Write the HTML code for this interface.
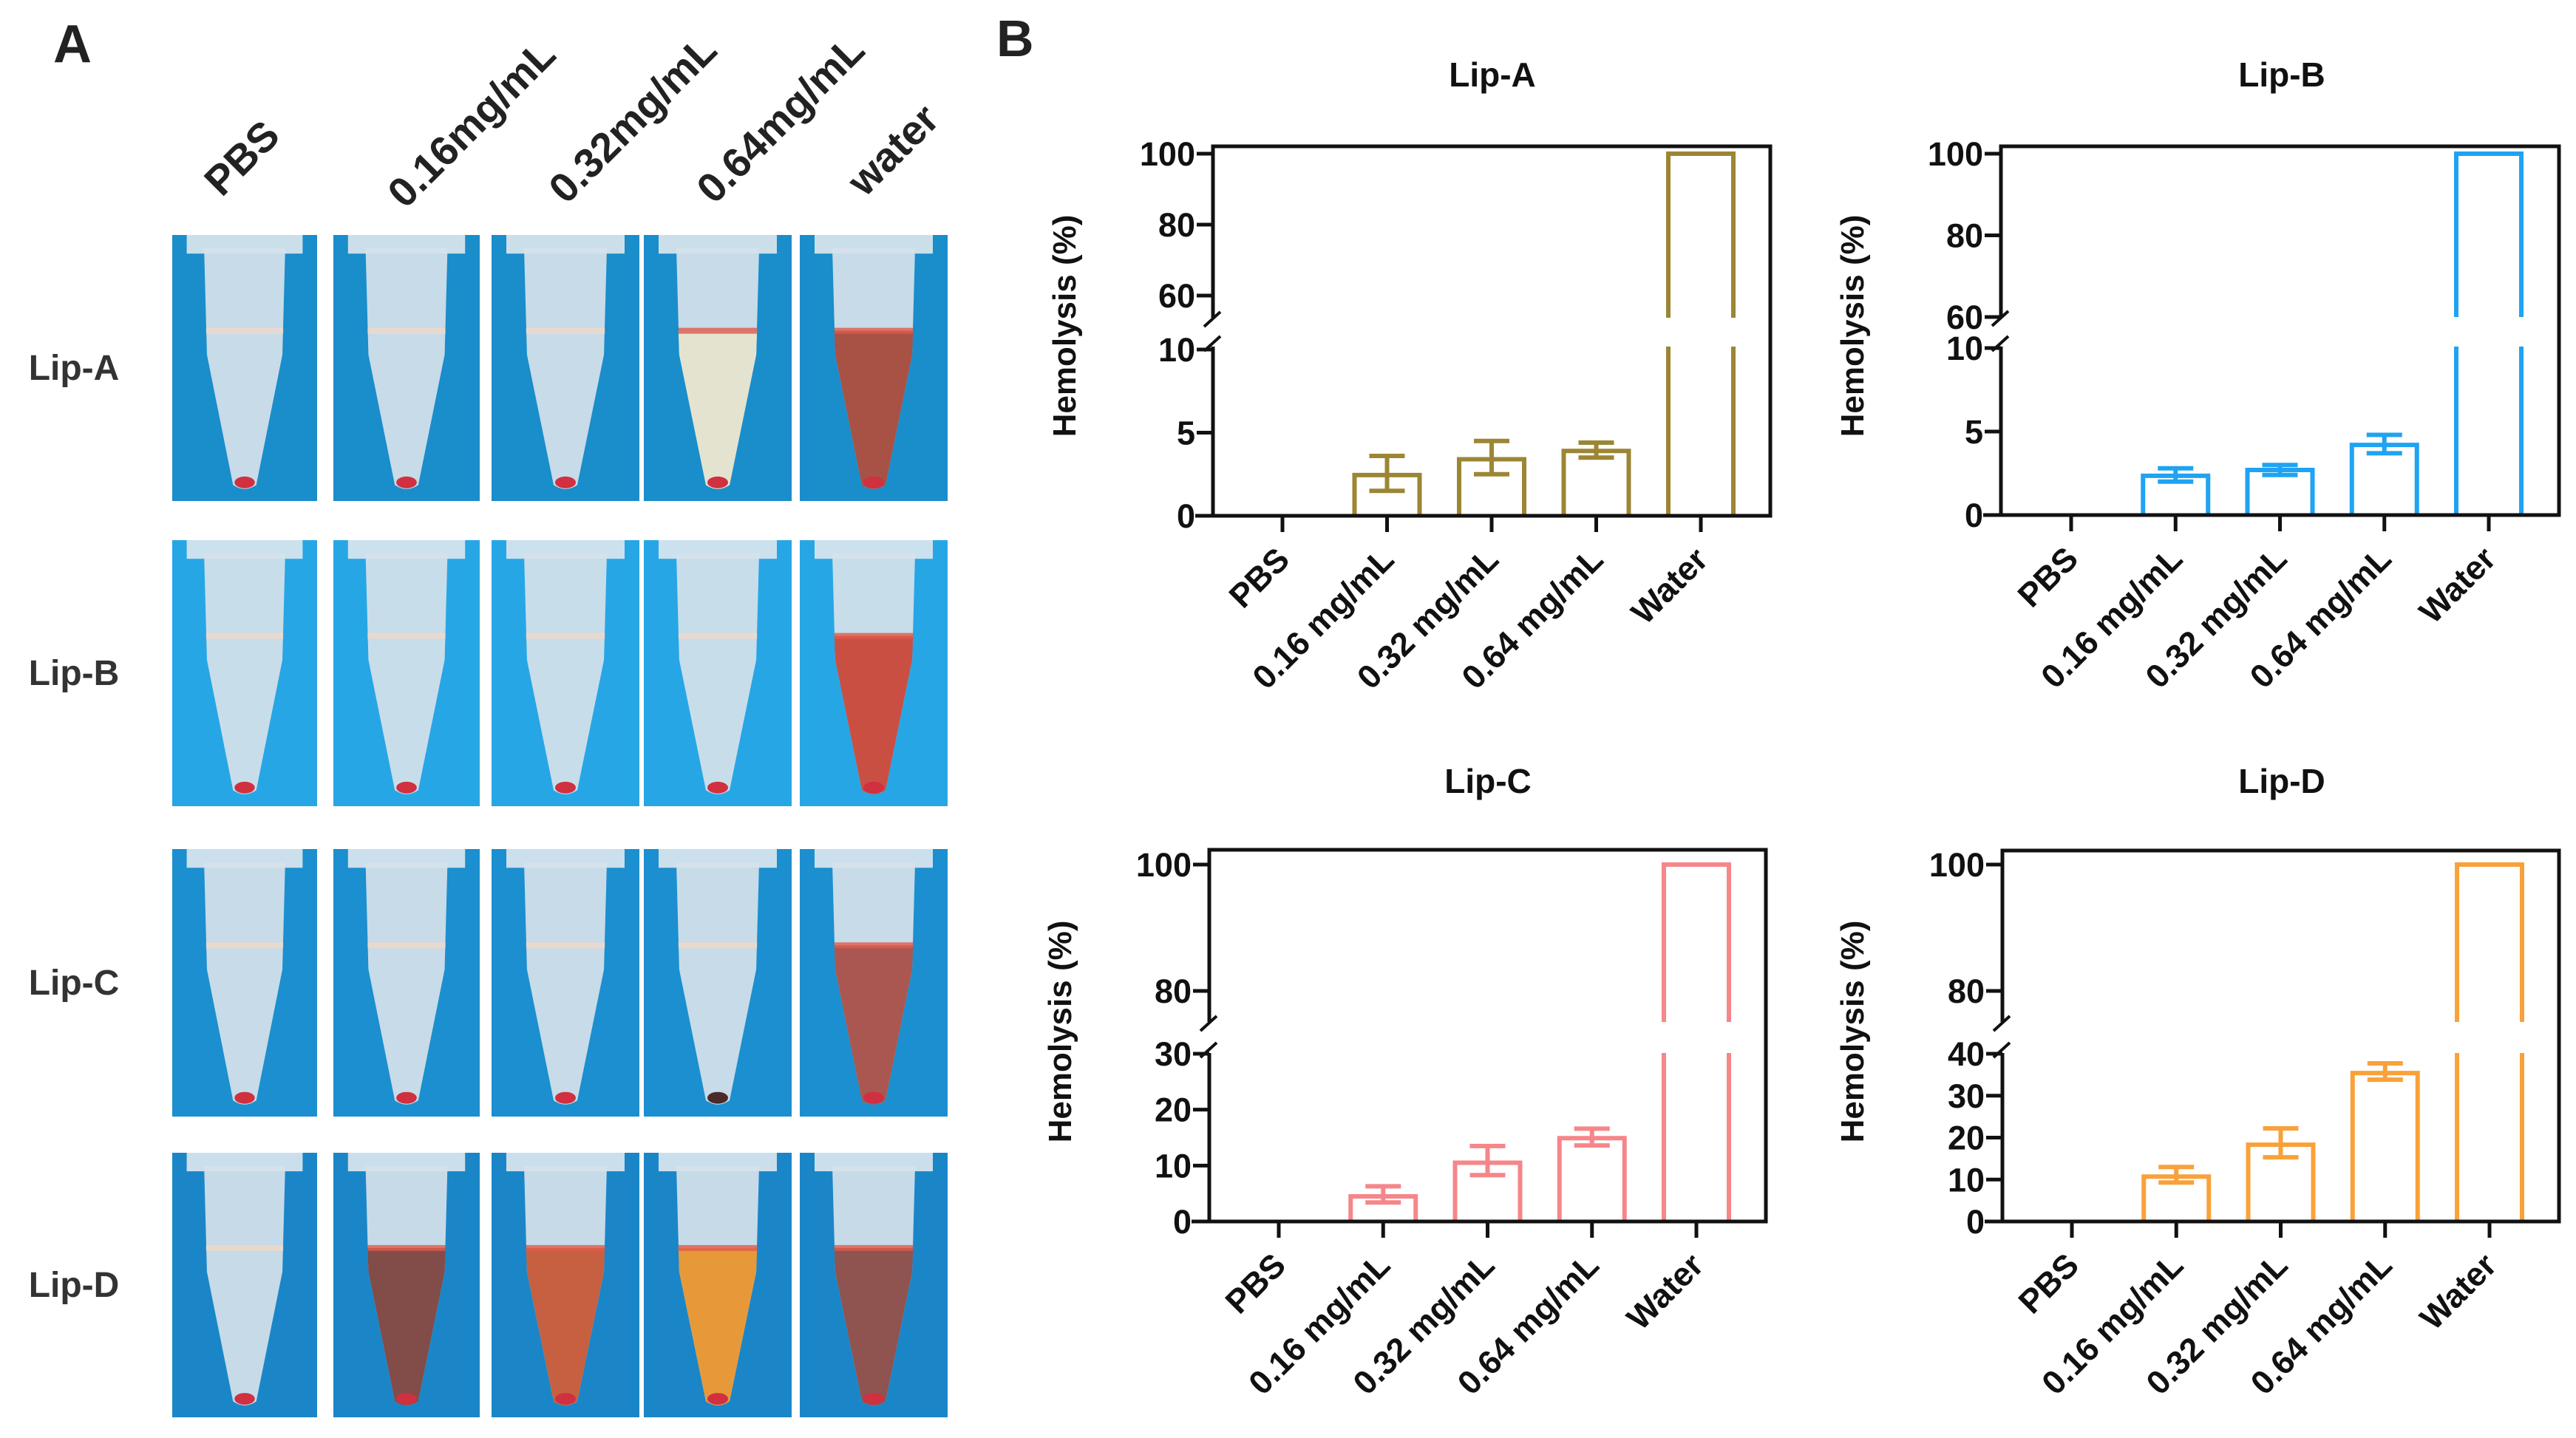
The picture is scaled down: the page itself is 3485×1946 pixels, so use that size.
<!DOCTYPE html>
<html><head><meta charset="utf-8">
<style>
html,body{margin:0;padding:0;background:#fff;}
svg{display:block;font-family:"Liberation Sans",Arial,sans-serif;}
</style></head>
<body>
<svg id="fig" width="3485" height="1946" viewBox="0 0 3485 1946" xmlns="http://www.w3.org/2000/svg">
<text x="72" y="84" font-size="72" font-weight="bold" fill="#222">A</text>
<text x="1348" y="76" font-size="70" font-weight="bold" fill="#222">B</text>
<g id="panelA"></g>
<g id="charts"></g>
</svg>
<script>
// ---------- Chart data ----------
const categories = ["PBS", "0.16 mg/mL", "0.32 mg/mL", "0.64 mg/mL", "Water"];
const chartTitles = ["Lip-A", "Lip-B", "Lip-C", "Lip-D"];
const valuesA = [0, 2.45, 3.4, 3.9, 100];
const errHiA = [0, 3.6, 4.5, 4.4, 100];
const errLoA = [0, 1.5, 2.5, 3.5, 100];
const valuesB = [0, 2.35, 2.7, 4.2, 100];
const errHiB = [0, 2.8, 3.0, 4.8, 100];
const errLoB = [0, 2.0, 2.4, 3.7, 100];
const valuesC = [0, 4.5, 10.5, 14.9, 100];
const errHiC = [0, 6.3, 13.5, 16.6, 100];
const errLoC = [0, 3.4, 8.3, 13.6, 100];
const valuesD = [0, 10.7, 18.3, 35.4, 100];
const errHiD = [0, 13, 22.2, 37.7, 100];
const errLoD = [0, 9.3, 15.3, 33.8, 100];
const lowTicksA = [0, 5, 10], upTicksA = [60, 80, 100];
const lowTicksB = [0, 5, 10], upTicksB = [60, 80, 100];
const lowTicksC = [0, 10, 20, 30], upTicksC = [80, 100];
const lowTicksD = [0, 10, 20, 30, 40], upTicksD = [80, 100];

const NS = "http://www.w3.org/2000/svg";
function mk(parent, tag, attrs, text) {
  const e = document.createElementNS(NS, tag);
  for (const k in attrs) e.setAttribute(k, attrs[k]);
  if (text !== undefined) e.textContent = text;
  parent.appendChild(e);
  return e;
}

// layout (geometry only)
const layouts = [
  {left:1641,right:2395,top:198,zero:698,lowMax:10,lowTopY:473,lowEnd:10.2,upMin:60,upMinY:400,y100:208,gapTop:430,gapBot:469,cx0:1735,titleX:2019,titleY:117,ylabX:1455,ylabY:441,color:"#9c8634"},
  {left:2707,right:3462,top:198,zero:697,lowMax:10,lowTopY:471,lowEnd:10.1,upMin:60,upMinY:429,y100:208,gapTop:429,gapBot:469,cx0:2802,titleX:3087,titleY:117,ylabX:2521,ylabY:441,color:"#1fa3f2"},
  {left:1636,right:2389,top:1150,zero:1653,lowMax:30,lowTopY:1426,lowEnd:30,upMin:80,upMinY:1341,y100:1170,gapTop:1383,gapBot:1425,cx0:1730,titleX:2013,titleY:1073,ylabX:1449,ylabY:1396,color:"#f5868a"},
  {left:2709,right:3462,top:1151,zero:1653,lowMax:40,lowTopY:1426,lowEnd:40,upMin:80,upMinY:1341,y100:1170,gapTop:1383,gapBot:1425,cx0:2803,titleX:3087,titleY:1073,ylabX:2521,ylabY:1396,color:"#f9a13a"}
];
const seriesVals = [valuesA, valuesB, valuesC, valuesD];
const seriesHi = [errHiA, errHiB, errHiC, errHiD];
const seriesLo = [errLoA, errLoB, errLoC, errLoD];
const lowTicks = [lowTicksA, lowTicksB, lowTicksC, lowTicksD];
const upTicks = [upTicksA, upTicksB, upTicksC, upTicksD];

const chartsG = document.getElementById("charts");
layouts.forEach((L, ci) => {
  const g = mk(chartsG, "g", {});
  
  
  const lowScale = v => L.zero - v * (L.zero - L.lowTopY) / L.lowMax;
  const upScale = v => L.y100 + (100 - v) * (L.upMinY - L.y100) / (100 - L.upMin);
  const yS = v => v <= L.lowEnd ? lowScale(v) : upScale(v);
  const step = (L.right - L.left - 2 * (L.cx0 - L.left)) / (categories.length - 1);
  const xS = i => L.cx0 + i * step;
  const col = L.color;

  const t = mk(g, "text", {x:L.titleX, y:L.titleY, "font-size":46, "font-weight":"bold", "text-anchor":"middle", fill:"#111"}, chartTitles[ci]);
  
  
  const yl = mk(g, "text", {x:L.ylabX, y:L.ylabY, "font-size":44, "font-weight":"bold", "text-anchor":"middle", fill:"#111", transform:`rotate(-90 ${L.ylabX} ${L.ylabY})`}, "Hemolysis (%)");
  
  

  // bars
  seriesVals[ci].forEach((v, i) => {
    if (v <= 0) return;
    const cx = xS(i), hw = 44;
    const bg = mk(g, "g", {stroke:col, "stroke-width":6, fill:"none"});
    
    
    const ty = yS(v);
    if (v > L.lowEnd) {
      mk(bg, "path", {d:`M${cx-hw},${L.gapTop} L${cx-hw},${ty} L${cx+hw},${ty} L${cx+hw},${L.gapTop}`});
      mk(bg, "path", {d:`M${cx-hw},${L.zero} L${cx-hw},${L.gapBot} M${cx+hw},${L.zero} L${cx+hw},${L.gapBot}`});
    } else {
      mk(bg, "path", {d:`M${cx-hw},${L.zero} L${cx-hw},${ty} L${cx+hw},${ty} L${cx+hw},${L.zero}`});
      const hi = yS(seriesHi[ci][i]), lo = yS(seriesLo[ci][i]);
      mk(bg, "path", {d:`M${cx},${hi} L${cx},${lo} M${cx-24},${hi} L${cx+24},${hi} M${cx-24},${lo} L${cx+24},${lo}`});
    }
  });

  // frame
  const ax = mk(g, "g", {stroke:"#111", "stroke-width":5, fill:"none"});
  
  
  mk(ax, "path", {d:`M${L.left},${L.gapTop} L${L.left},${L.top} L${L.right},${L.top} L${L.right},${L.zero} L${L.left-24},${L.zero} M${L.left},${L.zero} L${L.left},${L.gapBot}`});
  mk(ax, "path", {d:`M${L.left-12},${L.gapTop+12} L${L.left+10},${L.gapTop-8} M${L.left-12},${L.gapBot+6} L${L.left+10},${L.gapBot-14}`, "stroke-width":4});

  const ticks = lowTicks[ci].map(v => [v, lowScale(v)]).concat(upTicks[ci].map(v => [v, upScale(v)]));
  ticks.forEach(([v, y]) => {
    mk(ax, "line", {x1:L.left-22, x2:L.left, y1:y, y2:y});
    const tl = mk(g, "text", {x:L.left-24, y:y+16, "font-size":45, "font-weight":"bold", "text-anchor":"end", fill:"#111"}, String(v));
    
    
  });
  categories.forEach((c, i) => {
    const x = xS(i);
    mk(ax, "line", {x1:x, x2:x, y1:L.zero, y2:L.zero + 22});
    const xl = mk(g, "text", {x:x + 12, y:L.zero + 62, "font-size":45, "font-weight":"bold", "text-anchor":"end", fill:"#111", transform:`rotate(-45 ${x+12} ${L.zero+62})`}, c);
    
    
  });
});

// ---------- Panel A tube photos ----------
const colLabels = ["PBS", "0.16mg/mL", "0.32mg/mL", "0.64mg/mL", "water"];
const rowLabels = ["Lip-A", "Lip-B", "Lip-C", "Lip-D"];
const liquid = [
  [null, null, null, "#e6e4cf", "#a64a3c"],
  [null, null, null, null, "#c9473a"],
  [null, null, null, null, "#a85048"],
  [null, "#7e4540", "#c65a38", "#e9962f", "#8c4c48"]
];
const bgCol = ["#1a8dcb", "#27a6e6", "#1b8fcf", "#1a86c8"];
const colX = [[233,429],[451,649],[665,865],[871,1071],[1082,1282]];
const rowY = [[318,678],[731,1091],[1149,1511],[1560,1918]];
const pA = document.getElementById("panelA");
const labX = [300, 548, 766, 966, 1170], labY = [268, 284, 278, 278, 268];
colLabels.forEach((c, i) => {
  const tl = mk(pA, "text", {x:labX[i], y:labY[i], "font-size":56, "font-weight":"bold", fill:"#222", transform:`rotate(-45 ${labX[i]} ${labY[i]})`}, c);
  
  
});
rowLabels.forEach((r, ri) => {
  const y = (rowY[ri][0] + rowY[ri][1]) / 2 + 16;
  const tl = mk(pA, "text", {x:100, y:y, "font-size":48, "font-weight":"bold", fill:"#333", "text-anchor":"middle"}, r);
  
  
  colX.forEach(([x0, x1], ci) => {
    const [y0, y1] = rowY[ri];
    const w = x1 - x0, h = y1 - y0;
    const cg = mk(pA, "g", {});
    
    
    mk(cg, "rect", {x:x0, y:y0, width:w, height:h, fill:bgCol[ri]});
    const cx = x0 + w / 2;
    mk(cg, "rect", {x:x0 + 0.1*w, y:y0, width:0.8*w, height:0.07*h, fill:"#dfe8ee", opacity:0.9});
    const tw = 0.28 * w, tipY = y0 + 0.96 * h;
    const body = `M${cx-tw},${y0+0.05*h} L${cx+tw},${y0+0.05*h} L${cx+tw*0.93},${y0+0.45*h} L${cx+0.08*w},${tipY-0.02*h} Q${cx},${tipY+0.01*h} ${cx-0.08*w},${tipY-0.02*h} L${cx-tw*0.93},${y0+0.45*h} Z`;
    mk(cg, "path", {d:body, fill:"#d6e2ea", opacity:0.92});
    const lc = liquid[ri][ci];
    const ly = y0 + 0.36 * h;
    const liq = `M${cx-tw*0.95},${ly} L${cx+tw*0.95},${ly} L${cx+tw*0.93},${y0+0.45*h} L${cx+0.08*w},${tipY-0.02*h} Q${cx},${tipY+0.01*h} ${cx-0.08*w},${tipY-0.02*h} L${cx-tw*0.93},${y0+0.45*h} Z`;
    if (lc) mk(cg, "path", {d:liq, fill:lc, opacity:0.95});
    mk(cg, "rect", {x:cx-tw*0.95, y:ly-4, width:tw*1.9, height:8, fill:lc ? "#e05a4a" : "#f0d8c8", opacity:0.8});
    mk(cg, "ellipse", {cx:cx, cy:tipY-0.03*h, rx:0.07*w, ry:0.022*h, fill:ri===2&&ci===3 ? "#4a2a2a" : "#d03040"});
  });
});
</script>
</body></html>
